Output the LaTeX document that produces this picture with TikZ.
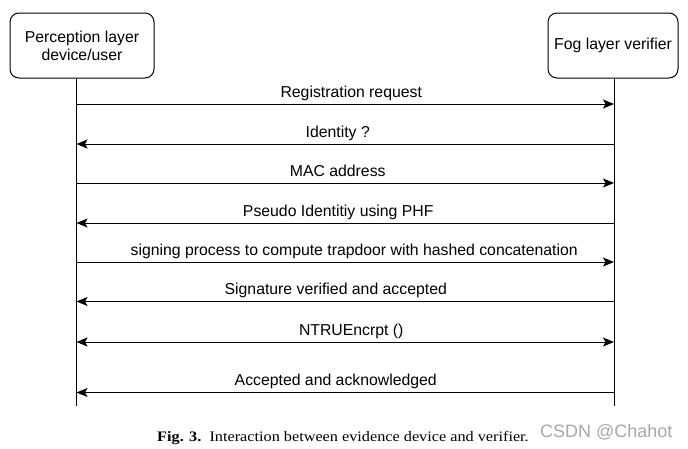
\documentclass[tikz,border=0pt]{standalone}
\usepackage{fontspec}
\setmainfont{Liberation Serif}
\setsansfont{Liberation Sans}
\newfontfamily\capfont[FakeStretch=1.12]{Liberation Serif}
\usepackage{tikz}
\usetikzlibrary{arrows.meta,positioning}
\definecolor{ink}{HTML}{000000}
\definecolor{wmgray}{HTML}{A8A8A8}
\tikzset{
  actor/.style={rectangle,rounded corners=9pt,draw=ink,line width=1pt,fill=white,
    align=center,font=\sffamily\fontsize{15.8}{18}\selectfont,minimum height=65pt,inner sep=0pt},
  lifeline/.style={draw=ink,line width=1pt},
  msg/.style={-{Stealth[length=11pt,width=9pt,inset=2.5pt]},line width=1pt,draw=ink},
  msgboth/.style={{Stealth[length=11pt,width=9pt,inset=2.5pt]}-{Stealth[length=11pt,width=9pt,inset=2.5pt]},line width=1pt,draw=ink},
  msglabel/.style={midway,anchor=base,yshift=7pt,inner sep=0pt,font=\sffamily\fontsize{15.8}{18}\selectfont}
}
\begin{document}
\begin{tikzpicture}[x=1pt,y=-1pt]
\useasboundingbox (0,0) rectangle (688,448);
% participants
\node[actor,minimum width=144pt] (dev) at (82,45.5) {Perception layer\\device/user};
\node[actor,minimum width=130pt] (fog) at (613,45.5) {Fog layer verifier};
\coordinate (devend) at (76.5,406);
\coordinate (fogend) at (614,406);
\draw[lifeline] (dev.south -| devend) -- (devend);
\draw[lifeline] (fog.south -| fogend) -- (fogend);
% messages
\coordinate (d1) at (76.5,104); \coordinate (f1) at (614,104);
\coordinate (d2) at (76.5,144); \coordinate (f2) at (614,144);
\coordinate (d3) at (76.5,183); \coordinate (f3) at (614,183);
\coordinate (d4) at (76.5,223); \coordinate (f4) at (614,223);
\coordinate (d5) at (76.5,262); \coordinate (f5) at (614,262);
\coordinate (d6) at (76.5,301.5); \coordinate (f6) at (614,301.5);
\coordinate (d7) at (76.5,342); \coordinate (f7) at (614,342);
\coordinate (d8) at (76.5,392.5); \coordinate (f8) at (614,392.5);
\draw[msg] (d1) -- node[msglabel,xshift=6pt]{Registration request} (f1);
\draw[msg] (f2) -- node[msglabel,xshift=-7.5pt]{Identity ?} (d2);
\draw[msg] (d3) -- node[msglabel,xshift=-7.5pt]{MAC address} (f3);
\draw[msg] (f4) -- node[msglabel,xshift=-7pt]{Pseudo Identitiy using PHF} (d4);
\draw[msg] (d5) -- node[msglabel,xshift=9pt]{signing process to compute trapdoor with hashed concatenation} (f5);
\draw[msg] (f6) -- node[msglabel,xshift=-9.5pt]{Signature verified and accepted} (d6);
\draw[msgboth] (d7) -- node[msglabel,xshift=6pt]{NTRUEncrpt ()} (f7);
\draw[msg] (f8) -- node[msglabel,xshift=-9.5pt]{Accepted and acknowledged} (d8);
% caption
\node[anchor=base west,inner sep=0pt,font=\capfont\fontsize{14.5}{17}\selectfont] (cap) at (157,441)
  {\textbf{Fig. 3.}\ \ Interaction between evidence device and verifier.};
\node[anchor=base west,inner sep=0pt,text=wmgray,font=\sffamily\fontsize{18}{20}\selectfont] (wm) at (540,437.5) {CSDN @Chahot};
\end{tikzpicture}
\end{document}
